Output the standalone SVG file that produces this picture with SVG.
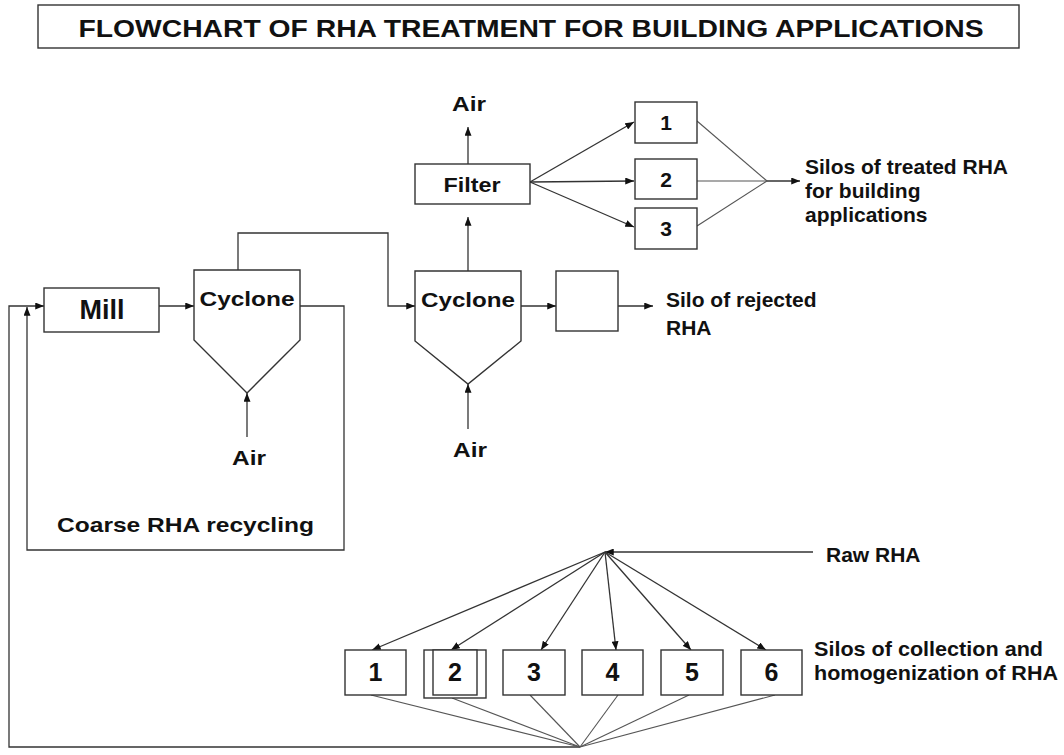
<svg xmlns="http://www.w3.org/2000/svg" width="1064" height="755" viewBox="0 0 1064 755">
<style>
.box{fill:#fff;stroke:#333;stroke-width:1.4}
.ln{fill:none;stroke:#333;stroke-width:1.3}
.fl{fill:none;stroke:#555;stroke-width:1.1}
.t{font-family:"Liberation Sans",Arial,sans-serif;font-weight:bold;font-size:21px;fill:#111}
.n{font-family:"Liberation Sans Narrow","Liberation Sans",Arial,sans-serif;font-weight:bold;font-size:25px;fill:#111}
.c{text-anchor:middle}
</style>
<defs>
<marker id="ah" viewBox="0 0 10 8" refX="10" refY="4" markerWidth="9" markerHeight="7" markerUnits="userSpaceOnUse" orient="auto"><path d="M0,0 L10,4 L0,8 z" fill="#111"/></marker>
</defs>
<rect width="1064" height="755" fill="#fff"/>

<g id="title">
<rect class="box" x="38" y="5" width="981" height="43"/>
<text class="n c" x="531" y="37" style="font-size:24px" textLength="905" lengthAdjust="spacingAndGlyphs">FLOWCHART OF RHA TREATMENT FOR BUILDING APPLICATIONS</text>
</g>

<g id="connectors">
<polyline class="ln" points="580,747 9,747 9,306 44,306" marker-end="url(#ah)"/>
<polyline class="ln" points="300,306 344,306 344,550 27,550 27,307" marker-end="url(#ah)"/>
<line class="ln" x1="159" y1="306" x2="194" y2="306" marker-end="url(#ah)"/>
<polyline class="ln" points="238,270 238,233 388,233 388,306 415,306" marker-end="url(#ah)"/>
<line class="ln" x1="247" y1="437" x2="247" y2="393" marker-end="url(#ah)"/>
<line class="ln" x1="468" y1="429" x2="468" y2="384" marker-end="url(#ah)"/>
<line class="ln" x1="468" y1="271" x2="468" y2="217" marker-end="url(#ah)"/>
<line class="ln" x1="468" y1="164" x2="468" y2="127" marker-end="url(#ah)"/>
<line class="ln" x1="521" y1="306" x2="556" y2="306" marker-end="url(#ah)"/>
<line class="ln" x1="618" y1="306" x2="653" y2="306" marker-end="url(#ah)"/>
<line class="ln" x1="530" y1="182" x2="634" y2="122" marker-end="url(#ah)"/>
<line class="ln" x1="530" y1="182" x2="634" y2="181" marker-end="url(#ah)"/>
<line class="ln" x1="530" y1="182" x2="634" y2="227" marker-end="url(#ah)"/>
<line class="fl" x1="697" y1="121" x2="767" y2="181"/>
<line class="fl" x1="697" y1="181" x2="767" y2="181"/>
<line class="fl" x1="697" y1="226" x2="767" y2="181"/>
<line class="ln" x1="767" y1="181" x2="800" y2="181" marker-end="url(#ah)"/>
<line class="ln" x1="813" y1="552" x2="605" y2="552" marker-end="url(#ah)"/>
<line class="ln" x1="605" y1="552" x2="372" y2="650" marker-end="url(#ah)"/>
<line class="ln" x1="605" y1="552" x2="451" y2="650" marker-end="url(#ah)"/>
<line class="ln" x1="605" y1="552" x2="541" y2="650" marker-end="url(#ah)"/>
<line class="ln" x1="605" y1="552" x2="616" y2="650" marker-end="url(#ah)"/>
<line class="ln" x1="605" y1="552" x2="691" y2="650" marker-end="url(#ah)"/>
<line class="ln" x1="605" y1="552" x2="766" y2="650" marker-end="url(#ah)"/>
<line class="fl" x1="371" y1="695" x2="580" y2="747"/>
<line class="fl" x1="452" y1="698" x2="580" y2="747"/>
<line class="fl" x1="530" y1="695" x2="580" y2="747"/>
<line class="fl" x1="618" y1="695" x2="580" y2="747"/>
<line class="fl" x1="689" y1="695" x2="580" y2="747"/>
<line class="fl" x1="775" y1="695" x2="580" y2="747"/>
</g>

<g id="mill">
<rect class="box" x="44" y="288" width="115" height="44"/>
<text class="t c" x="102" y="319" style="font-size:27px">Mill</text>
</g>

<g id="cyclone1">
<polygon class="box" points="194,270 300,270 300,340 247,393 194,340"/>
<text class="t c" x="247" y="306" textLength="95" lengthAdjust="spacingAndGlyphs">Cyclone</text>
</g>
<g id="air1"><text class="t c" x="249" y="465" textLength="34" lengthAdjust="spacingAndGlyphs">Air</text></g>
<g id="coarse"><text class="t" x="57" y="532" textLength="257" lengthAdjust="spacingAndGlyphs">Coarse RHA recycling</text></g>

<g id="cyclone2">
<polygon class="box" points="415,271 521,271 521,341 468,384 415,341"/>
<text class="t c" x="468" y="307" textLength="94" lengthAdjust="spacingAndGlyphs">Cyclone</text>
</g>
<g id="air2"><text class="t c" x="470" y="457" textLength="34" lengthAdjust="spacingAndGlyphs">Air</text></g>

<g id="filter">
<rect class="box" x="415" y="164" width="115" height="40"/>
<text class="t c" x="472" y="192" textLength="57" lengthAdjust="spacingAndGlyphs">Filter</text>
</g>
<g id="air3"><text class="t c" x="469" y="111" textLength="34" lengthAdjust="spacingAndGlyphs">Air</text></g>

<g id="rejected">
<rect class="box" x="556" y="271" width="62" height="60"/>
</g>
<g id="rejected-label">
<text class="t" x="666" y="307">Silo of rejected</text>
<text class="t" x="666" y="335">RHA</text>
</g>

<g id="silo-t1"><rect class="box" x="635" y="102" width="62" height="41"/><text class="t c" x="666" y="130">1</text></g>
<g id="silo-t2"><rect class="box" x="635" y="159" width="62" height="40"/><text class="t c" x="666" y="187">2</text></g>
<g id="silo-t3"><rect class="box" x="635" y="208" width="62" height="41"/><text class="t c" x="666" y="236">3</text></g>
<g id="treated-label">
<text class="t" x="805" y="174">Silos of treated RHA</text>
<text class="t" x="805" y="198">for building</text>
<text class="t" x="805" y="222">applications</text>
</g>

<g id="raw"><text class="t" x="826" y="562">Raw RHA</text></g>

<g id="silo-c1"><rect class="box" x="345" y="650" width="61" height="45"/><text class="n c" x="375.5" y="681">1</text></g>
<g id="silo-c2"><rect class="box" x="424" y="650" width="62" height="48"/><rect class="box" x="433" y="650" width="44" height="45"/><text class="n c" x="455" y="681">2</text></g>
<g id="silo-c3"><rect class="box" x="503" y="650" width="62" height="45"/><text class="n c" x="534" y="681">3</text></g>
<g id="silo-c4"><rect class="box" x="582" y="650" width="61" height="45"/><text class="n c" x="612.5" y="681">4</text></g>
<g id="silo-c5"><rect class="box" x="661" y="650" width="62" height="45"/><text class="n c" x="692" y="681">5</text></g>
<g id="silo-c6"><rect class="box" x="741" y="650" width="61" height="45"/><text class="n c" x="771.5" y="681">6</text></g>
<g id="collection-label">
<text class="n" x="814" y="656" style="font-size:21px" textLength="229" lengthAdjust="spacingAndGlyphs">Silos of collection and</text>
<text class="n" x="814" y="680" style="font-size:21px" textLength="244" lengthAdjust="spacingAndGlyphs">homogenization of RHA</text>
</g>
</svg>
